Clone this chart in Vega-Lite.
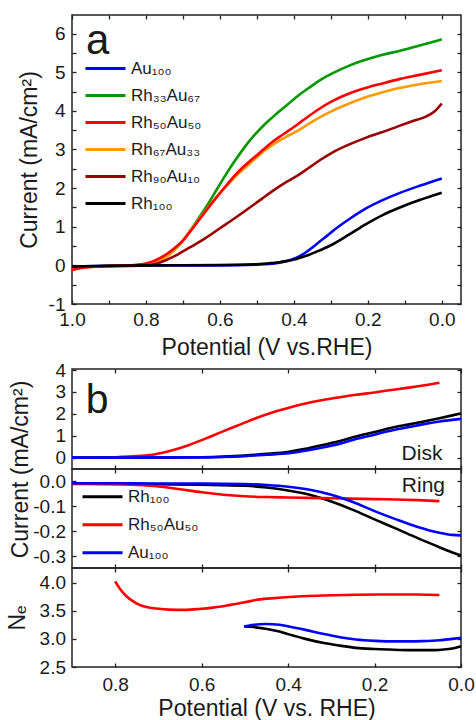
{
  "$schema": "https://vega.github.io/schema/vega-lite/v6.json",
  "padding": {"left": 5, "top": 13, "right": 0, "bottom": 0},
  "spacing": 0,
  "config": {
    "font": "Liberation Sans",
    "view": {"stroke": "#222", "strokeWidth": 1.5},
    "axis": {"grid": false, "domain": false, "tickSize": -4, "tickColor": "#222", "tickWidth": 1.3, "labelFontSize": 19, "labelColor": "#1a1a1a", "titleFontSize": 23, "titleFontWeight": "normal", "titleColor": "#1a1a1a", "labelFlush": false, "labelOverlap": false},
    "legend": {"labelColor": "#1a1a1a"},
    "text": {"color": "#1a1a1a"}
  },
  "resolve": {"scale": {"color": "independent"}, "legend": {"color": "independent"}},
  "vconcat": [
    {
      "width": 389,
      "height": 289,
      "resolve": {"axis": {"x": "independent", "y": "independent"}},
      "layer": [
        {
          "data": {"values": [
            {"s": "Au₁₀₀", "p": 1.0, "i": -0.03}, {"s": "Au₁₀₀", "p": 0.9, "i": -0.01}, {"s": "Au₁₀₀", "p": 0.8, "i": 0.0}, {"s": "Au₁₀₀", "p": 0.6, "i": 0.0}, {"s": "Au₁₀₀", "p": 0.5, "i": 0.02}, {"s": "Au₁₀₀", "p": 0.46, "i": 0.04}, {"s": "Au₁₀₀", "p": 0.44, "i": 0.07}, {"s": "Au₁₀₀", "p": 0.42, "i": 0.11}, {"s": "Au₁₀₀", "p": 0.4, "i": 0.17}, {"s": "Au₁₀₀", "p": 0.386, "i": 0.23}, {"s": "Au₁₀₀", "p": 0.37, "i": 0.32}, {"s": "Au₁₀₀", "p": 0.35, "i": 0.46}, {"s": "Au₁₀₀", "p": 0.33, "i": 0.62}, {"s": "Au₁₀₀", "p": 0.31, "i": 0.77}, {"s": "Au₁₀₀", "p": 0.296, "i": 0.88}, {"s": "Au₁₀₀", "p": 0.25, "i": 1.2}, {"s": "Au₁₀₀", "p": 0.206, "i": 1.47}, {"s": "Au₁₀₀", "p": 0.16, "i": 1.69}, {"s": "Au₁₀₀", "p": 0.115, "i": 1.87}, {"s": "Au₁₀₀", "p": 0.06, "i": 2.06}, {"s": "Au₁₀₀", "p": 0.0, "i": 2.25},
            {"s": "Rh₃₃Au₆₇", "p": 1.0, "i": -0.06}, {"s": "Rh₃₃Au₆₇", "p": 0.95, "i": -0.03}, {"s": "Rh₃₃Au₆₇", "p": 0.9, "i": -0.02}, {"s": "Rh₃₃Au₆₇", "p": 0.85, "i": -0.01}, {"s": "Rh₃₃Au₆₇", "p": 0.82, "i": 0.01}, {"s": "Rh₃₃Au₆₇", "p": 0.8, "i": 0.04}, {"s": "Rh₃₃Au₆₇", "p": 0.78, "i": 0.09}, {"s": "Rh₃₃Au₆₇", "p": 0.76, "i": 0.17}, {"s": "Rh₃₃Au₆₇", "p": 0.74, "i": 0.28}, {"s": "Rh₃₃Au₆₇", "p": 0.72, "i": 0.43}, {"s": "Rh₃₃Au₆₇", "p": 0.7, "i": 0.64}, {"s": "Rh₃₃Au₆₇", "p": 0.68, "i": 0.9}, {"s": "Rh₃₃Au₆₇", "p": 0.66, "i": 1.18}, {"s": "Rh₃₃Au₆₇", "p": 0.64, "i": 1.47}, {"s": "Rh₃₃Au₆₇", "p": 0.62, "i": 1.78}, {"s": "Rh₃₃Au₆₇", "p": 0.6, "i": 2.1}, {"s": "Rh₃₃Au₆₇", "p": 0.584, "i": 2.35}, {"s": "Rh₃₃Au₆₇", "p": 0.56, "i": 2.7}, {"s": "Rh₃₃Au₆₇", "p": 0.54, "i": 2.97}, {"s": "Rh₃₃Au₆₇", "p": 0.521, "i": 3.21}, {"s": "Rh₃₃Au₆₇", "p": 0.5, "i": 3.44}, {"s": "Rh₃₃Au₆₇", "p": 0.48, "i": 3.64}, {"s": "Rh₃₃Au₆₇", "p": 0.458, "i": 3.83}, {"s": "Rh₃₃Au₆₇", "p": 0.44, "i": 3.98}, {"s": "Rh₃₃Au₆₇", "p": 0.42, "i": 4.14}, {"s": "Rh₃₃Au₆₇", "p": 0.4, "i": 4.3}, {"s": "Rh₃₃Au₆₇", "p": 0.386, "i": 4.41}, {"s": "Rh₃₃Au₆₇", "p": 0.36, "i": 4.59}, {"s": "Rh₃₃Au₆₇", "p": 0.33, "i": 4.79}, {"s": "Rh₃₃Au₆₇", "p": 0.296, "i": 4.97}, {"s": "Rh₃₃Au₆₇", "p": 0.25, "i": 5.17}, {"s": "Rh₃₃Au₆₇", "p": 0.206, "i": 5.32}, {"s": "Rh₃₃Au₆₇", "p": 0.16, "i": 5.45}, {"s": "Rh₃₃Au₆₇", "p": 0.115, "i": 5.55}, {"s": "Rh₃₃Au₆₇", "p": 0.06, "i": 5.69}, {"s": "Rh₃₃Au₆₇", "p": 0.03, "i": 5.77}, {"s": "Rh₃₃Au₆₇", "p": 0.0, "i": 5.85},
            {"s": "Rh₆₇Au₃₃", "p": 1.0, "i": -0.08}, {"s": "Rh₆₇Au₃₃", "p": 0.95, "i": -0.04}, {"s": "Rh₆₇Au₃₃", "p": 0.9, "i": -0.02}, {"s": "Rh₆₇Au₃₃", "p": 0.85, "i": -0.01}, {"s": "Rh₆₇Au₃₃", "p": 0.82, "i": 0.0}, {"s": "Rh₆₇Au₃₃", "p": 0.8, "i": 0.02}, {"s": "Rh₆₇Au₃₃", "p": 0.78, "i": 0.06}, {"s": "Rh₆₇Au₃₃", "p": 0.76, "i": 0.13}, {"s": "Rh₆₇Au₃₃", "p": 0.74, "i": 0.25}, {"s": "Rh₆₇Au₃₃", "p": 0.72, "i": 0.42}, {"s": "Rh₆₇Au₃₃", "p": 0.7, "i": 0.64}, {"s": "Rh₆₇Au₃₃", "p": 0.68, "i": 0.9}, {"s": "Rh₆₇Au₃₃", "p": 0.66, "i": 1.15}, {"s": "Rh₆₇Au₃₃", "p": 0.64, "i": 1.4}, {"s": "Rh₆₇Au₃₃", "p": 0.62, "i": 1.64}, {"s": "Rh₆₇Au₃₃", "p": 0.6, "i": 1.87}, {"s": "Rh₆₇Au₃₃", "p": 0.58, "i": 2.08}, {"s": "Rh₆₇Au₃₃", "p": 0.56, "i": 2.28}, {"s": "Rh₆₇Au₃₃", "p": 0.54, "i": 2.46}, {"s": "Rh₆₇Au₃₃", "p": 0.52, "i": 2.63}, {"s": "Rh₆₇Au₃₃", "p": 0.5, "i": 2.8}, {"s": "Rh₆₇Au₃₃", "p": 0.48, "i": 2.96}, {"s": "Rh₆₇Au₃₃", "p": 0.46, "i": 3.1}, {"s": "Rh₆₇Au₃₃", "p": 0.44, "i": 3.22}, {"s": "Rh₆₇Au₃₃", "p": 0.42, "i": 3.33}, {"s": "Rh₆₇Au₃₃", "p": 0.4, "i": 3.43}, {"s": "Rh₆₇Au₃₃", "p": 0.38, "i": 3.54}, {"s": "Rh₆₇Au₃₃", "p": 0.36, "i": 3.66}, {"s": "Rh₆₇Au₃₃", "p": 0.33, "i": 3.83}, {"s": "Rh₆₇Au₃₃", "p": 0.296, "i": 4.0}, {"s": "Rh₆₇Au₃₃", "p": 0.27, "i": 4.11}, {"s": "Rh₆₇Au₃₃", "p": 0.25, "i": 4.19}, {"s": "Rh₆₇Au₃₃", "p": 0.206, "i": 4.35}, {"s": "Rh₆₇Au₃₃", "p": 0.16, "i": 4.48}, {"s": "Rh₆₇Au₃₃", "p": 0.115, "i": 4.59}, {"s": "Rh₆₇Au₃₃", "p": 0.06, "i": 4.69}, {"s": "Rh₆₇Au₃₃", "p": 0.0, "i": 4.77},
            {"s": "Rh₉₀Au₁₀", "p": 1.0, "i": -0.04}, {"s": "Rh₉₀Au₁₀", "p": 0.9, "i": -0.02}, {"s": "Rh₉₀Au₁₀", "p": 0.82, "i": -0.01}, {"s": "Rh₉₀Au₁₀", "p": 0.8, "i": 0.0}, {"s": "Rh₉₀Au₁₀", "p": 0.78, "i": 0.03}, {"s": "Rh₉₀Au₁₀", "p": 0.76, "i": 0.08}, {"s": "Rh₉₀Au₁₀", "p": 0.74, "i": 0.16}, {"s": "Rh₉₀Au₁₀", "p": 0.72, "i": 0.25}, {"s": "Rh₉₀Au₁₀", "p": 0.7, "i": 0.36}, {"s": "Rh₉₀Au₁₀", "p": 0.68, "i": 0.47}, {"s": "Rh₉₀Au₁₀", "p": 0.66, "i": 0.58}, {"s": "Rh₉₀Au₁₀", "p": 0.638, "i": 0.71}, {"s": "Rh₉₀Au₁₀", "p": 0.6, "i": 0.96}, {"s": "Rh₉₀Au₁₀", "p": 0.56, "i": 1.22}, {"s": "Rh₉₀Au₁₀", "p": 0.52, "i": 1.49}, {"s": "Rh₉₀Au₁₀", "p": 0.5, "i": 1.63}, {"s": "Rh₉₀Au₁₀", "p": 0.48, "i": 1.77}, {"s": "Rh₉₀Au₁₀", "p": 0.458, "i": 1.92}, {"s": "Rh₉₀Au₁₀", "p": 0.42, "i": 2.16}, {"s": "Rh₉₀Au₁₀", "p": 0.386, "i": 2.35}, {"s": "Rh₉₀Au₁₀", "p": 0.36, "i": 2.52}, {"s": "Rh₉₀Au₁₀", "p": 0.33, "i": 2.72}, {"s": "Rh₉₀Au₁₀", "p": 0.296, "i": 2.92}, {"s": "Rh₉₀Au₁₀", "p": 0.25, "i": 3.13}, {"s": "Rh₉₀Au₁₀", "p": 0.206, "i": 3.3}, {"s": "Rh₉₀Au₁₀", "p": 0.16, "i": 3.45}, {"s": "Rh₉₀Au₁₀", "p": 0.115, "i": 3.61}, {"s": "Rh₉₀Au₁₀", "p": 0.08, "i": 3.73}, {"s": "Rh₉₀Au₁₀", "p": 0.043, "i": 3.85}, {"s": "Rh₉₀Au₁₀", "p": 0.02, "i": 3.98}, {"s": "Rh₉₀Au₁₀", "p": 0.0, "i": 4.19},
            {"s": "Rh₅₀Au₅₀", "p": 1.0, "i": -0.12}, {"s": "Rh₅₀Au₅₀", "p": 0.97, "i": -0.06}, {"s": "Rh₅₀Au₅₀", "p": 0.93, "i": -0.03}, {"s": "Rh₅₀Au₅₀", "p": 0.88, "i": -0.01}, {"s": "Rh₅₀Au₅₀", "p": 0.84, "i": 0.0}, {"s": "Rh₅₀Au₅₀", "p": 0.82, "i": 0.02}, {"s": "Rh₅₀Au₅₀", "p": 0.8, "i": 0.05}, {"s": "Rh₅₀Au₅₀", "p": 0.78, "i": 0.11}, {"s": "Rh₅₀Au₅₀", "p": 0.76, "i": 0.2}, {"s": "Rh₅₀Au₅₀", "p": 0.74, "i": 0.32}, {"s": "Rh₅₀Au₅₀", "p": 0.72, "i": 0.47}, {"s": "Rh₅₀Au₅₀", "p": 0.7, "i": 0.64}, {"s": "Rh₅₀Au₅₀", "p": 0.68, "i": 0.88}, {"s": "Rh₅₀Au₅₀", "p": 0.66, "i": 1.13}, {"s": "Rh₅₀Au₅₀", "p": 0.64, "i": 1.38}, {"s": "Rh₅₀Au₅₀", "p": 0.62, "i": 1.63}, {"s": "Rh₅₀Au₅₀", "p": 0.6, "i": 1.87}, {"s": "Rh₅₀Au₅₀", "p": 0.58, "i": 2.1}, {"s": "Rh₅₀Au₅₀", "p": 0.56, "i": 2.32}, {"s": "Rh₅₀Au₅₀", "p": 0.54, "i": 2.52}, {"s": "Rh₅₀Au₅₀", "p": 0.52, "i": 2.69}, {"s": "Rh₅₀Au₅₀", "p": 0.5, "i": 2.85}, {"s": "Rh₅₀Au₅₀", "p": 0.48, "i": 3.02}, {"s": "Rh₅₀Au₅₀", "p": 0.46, "i": 3.18}, {"s": "Rh₅₀Au₅₀", "p": 0.44, "i": 3.32}, {"s": "Rh₅₀Au₅₀", "p": 0.42, "i": 3.45}, {"s": "Rh₅₀Au₅₀", "p": 0.4, "i": 3.58}, {"s": "Rh₅₀Au₅₀", "p": 0.38, "i": 3.72}, {"s": "Rh₅₀Au₅₀", "p": 0.36, "i": 3.86}, {"s": "Rh₅₀Au₅₀", "p": 0.33, "i": 4.06}, {"s": "Rh₅₀Au₅₀", "p": 0.296, "i": 4.25}, {"s": "Rh₅₀Au₅₀", "p": 0.27, "i": 4.37}, {"s": "Rh₅₀Au₅₀", "p": 0.25, "i": 4.45}, {"s": "Rh₅₀Au₅₀", "p": 0.206, "i": 4.59}, {"s": "Rh₅₀Au₅₀", "p": 0.16, "i": 4.71}, {"s": "Rh₅₀Au₅₀", "p": 0.115, "i": 4.82}, {"s": "Rh₅₀Au₅₀", "p": 0.06, "i": 4.93}, {"s": "Rh₅₀Au₅₀", "p": 0.0, "i": 5.05},
            {"s": "Rh₁₀₀", "p": 1.0, "i": -0.03}, {"s": "Rh₁₀₀", "p": 0.9, "i": -0.01}, {"s": "Rh₁₀₀", "p": 0.8, "i": 0.0}, {"s": "Rh₁₀₀", "p": 0.6, "i": 0.01}, {"s": "Rh₁₀₀", "p": 0.5, "i": 0.03}, {"s": "Rh₁₀₀", "p": 0.46, "i": 0.06}, {"s": "Rh₁₀₀", "p": 0.44, "i": 0.08}, {"s": "Rh₁₀₀", "p": 0.42, "i": 0.11}, {"s": "Rh₁₀₀", "p": 0.4, "i": 0.15}, {"s": "Rh₁₀₀", "p": 0.386, "i": 0.19}, {"s": "Rh₁₀₀", "p": 0.36, "i": 0.27}, {"s": "Rh₁₀₀", "p": 0.34, "i": 0.35}, {"s": "Rh₁₀₀", "p": 0.32, "i": 0.43}, {"s": "Rh₁₀₀", "p": 0.296, "i": 0.54}, {"s": "Rh₁₀₀", "p": 0.25, "i": 0.8}, {"s": "Rh₁₀₀", "p": 0.206, "i": 1.06}, {"s": "Rh₁₀₀", "p": 0.16, "i": 1.3}, {"s": "Rh₁₀₀", "p": 0.115, "i": 1.49}, {"s": "Rh₁₀₀", "p": 0.06, "i": 1.69}, {"s": "Rh₁₀₀", "p": 0.0, "i": 1.88}
          ]},
          "mark": {"type": "line", "strokeWidth": 2.6, "interpolate": "monotone"},
          "encoding": {
            "x": {"field": "p", "type": "quantitative", "scale": {"domain": [-0.052, 1.0], "reverse": true, "nice": false, "zero": false},
                  "axis": {"orient": "bottom", "values": [0, 0.1, 0.2, 0.3, 0.4, 0.5, 0.6, 0.7, 0.8, 0.9, 1.0], "labelExpr": "abs(datum.value*5-round(datum.value*5))<0.01 ? format(datum.value,'.1f') : ''", "labelPadding": 10, "title": "Potential (V vs.RHE)", "titlePadding": 7}},
            "y": {"field": "i", "type": "quantitative", "scale": {"domain": [-1, 6.48], "nice": false, "zero": false},
                  "axis": {"orient": "left", "values": [-1, -0.5, 0, 0.5, 1, 1.5, 2, 2.5, 3, 3.5, 4, 4.5, 5, 5.5, 6], "labelExpr": "abs(datum.value-round(datum.value))<0.01 ? '' + datum.value : ''", "labelPadding": 11, "title": "Current (mA/cm²)", "titleX": -43, "titleBaseline": "middle"}},
            "color": {"field": "s", "type": "nominal",
                      "scale": {"domain": ["Au₁₀₀", "Rh₃₃Au₆₇", "Rh₅₀Au₅₀", "Rh₆₇Au₃₃", "Rh₉₀Au₁₀", "Rh₁₀₀"], "range": ["#0000ff", "#009a00", "#ff0000", "#ff9a00", "#9b0000", "#000000"]},
                      "legend": {"orient": "none", "legendX": 12, "legendY": 40, "direction": "vertical", "title": null, "symbolType": "stroke", "symbolSize": 1600, "symbolStrokeWidth": 3, "labelFontSize": 17, "clipHeight": 27, "rowPadding": 0, "labelOffset": 4, "padding": 0}}
          }
        },
        {
          "data": {"values": [{}]},
          "mark": {"type": "text", "text": "a", "fontSize": 42, "align": "left", "baseline": "alphabetic"},
          "encoding": {
            "x": {"datum": 0.962, "type": "quantitative", "axis": {"orient": "top", "values": [0, 0.1, 0.2, 0.3, 0.4, 0.5, 0.6, 0.7, 0.8, 0.9, 1.0], "labels": false, "title": null}},
            "y": {"datum": 5.47, "type": "quantitative", "axis": {"orient": "right", "values": [-1, -0.5, 0, 0.5, 1, 1.5, 2, 2.5, 3, 3.5, 4, 4.5, 5, 5.5, 6], "labels": false, "title": null}}
          }
        }
      ]
    },
    {
      "spacing": 0,
      "bounds": "flush",
      "resolve": {"scale": {"color": "independent"}, "legend": {"color": "independent"}},
      "vconcat": [
        {
          "width": 389,
          "height": 100,
          "resolve": {"axis": {"x": "independent", "y": "independent"}},
          "layer": [
            {
              "data": {"values": [
                {"s": "Rh₁₀₀", "p": 0.9, "i": 0.0}, {"s": "Rh₁₀₀", "p": 0.7, "i": 0.0}, {"s": "Rh₁₀₀", "p": 0.6, "i": 0.02}, {"s": "Rh₁₀₀", "p": 0.55, "i": 0.05}, {"s": "Rh₁₀₀", "p": 0.5, "i": 0.1}, {"s": "Rh₁₀₀", "p": 0.45, "i": 0.17}, {"s": "Rh₁₀₀", "p": 0.398, "i": 0.27}, {"s": "Rh₁₀₀", "p": 0.36, "i": 0.4}, {"s": "Rh₁₀₀", "p": 0.32, "i": 0.58}, {"s": "Rh₁₀₀", "p": 0.28, "i": 0.76}, {"s": "Rh₁₀₀", "p": 0.243, "i": 0.96}, {"s": "Rh₁₀₀", "p": 0.2, "i": 1.17}, {"s": "Rh₁₀₀", "p": 0.166, "i": 1.34}, {"s": "Rh₁₀₀", "p": 0.12, "i": 1.52}, {"s": "Rh₁₀₀", "p": 0.089, "i": 1.64}, {"s": "Rh₁₀₀", "p": 0.05, "i": 1.8}, {"s": "Rh₁₀₀", "p": 0.02, "i": 1.93}, {"s": "Rh₁₀₀", "p": 0.0, "i": 2.02},
                {"s": "Rh₅₀Au₅₀", "p": 0.8, "i": 0.02}, {"s": "Rh₅₀Au₅₀", "p": 0.75, "i": 0.07}, {"s": "Rh₅₀Au₅₀", "p": 0.707, "i": 0.15}, {"s": "Rh₅₀Au₅₀", "p": 0.67, "i": 0.32}, {"s": "Rh₅₀Au₅₀", "p": 0.629, "i": 0.58}, {"s": "Rh₅₀Au₅₀", "p": 0.59, "i": 0.88}, {"s": "Rh₅₀Au₅₀", "p": 0.552, "i": 1.19}, {"s": "Rh₅₀Au₅₀", "p": 0.51, "i": 1.52}, {"s": "Rh₅₀Au₅₀", "p": 0.475, "i": 1.8}, {"s": "Rh₅₀Au₅₀", "p": 0.44, "i": 2.04}, {"s": "Rh₅₀Au₅₀", "p": 0.398, "i": 2.28}, {"s": "Rh₅₀Au₅₀", "p": 0.36, "i": 2.47}, {"s": "Rh₅₀Au₅₀", "p": 0.32, "i": 2.63}, {"s": "Rh₅₀Au₅₀", "p": 0.28, "i": 2.76}, {"s": "Rh₅₀Au₅₀", "p": 0.243, "i": 2.87}, {"s": "Rh₅₀Au₅₀", "p": 0.2, "i": 2.98}, {"s": "Rh₅₀Au₅₀", "p": 0.166, "i": 3.08}, {"s": "Rh₅₀Au₅₀", "p": 0.12, "i": 3.2}, {"s": "Rh₅₀Au₅₀", "p": 0.08, "i": 3.32}, {"s": "Rh₅₀Au₅₀", "p": 0.05, "i": 3.42},
                {"s": "Au₁₀₀", "p": 0.9, "i": 0.0}, {"s": "Au₁₀₀", "p": 0.6, "i": 0.01}, {"s": "Au₁₀₀", "p": 0.55, "i": 0.03}, {"s": "Au₁₀₀", "p": 0.5, "i": 0.07}, {"s": "Au₁₀₀", "p": 0.45, "i": 0.13}, {"s": "Au₁₀₀", "p": 0.398, "i": 0.2}, {"s": "Au₁₀₀", "p": 0.36, "i": 0.31}, {"s": "Au₁₀₀", "p": 0.32, "i": 0.46}, {"s": "Au₁₀₀", "p": 0.28, "i": 0.64}, {"s": "Au₁₀₀", "p": 0.243, "i": 0.85}, {"s": "Au₁₀₀", "p": 0.2, "i": 1.05}, {"s": "Au₁₀₀", "p": 0.166, "i": 1.22}, {"s": "Au₁₀₀", "p": 0.12, "i": 1.4}, {"s": "Au₁₀₀", "p": 0.089, "i": 1.52}, {"s": "Au₁₀₀", "p": 0.05, "i": 1.65}, {"s": "Au₁₀₀", "p": 0.0, "i": 1.77}
              ]},
              "mark": {"type": "line", "strokeWidth": 2.6, "interpolate": "monotone"},
              "encoding": {
                "x": {"field": "p", "type": "quantitative", "scale": {"domain": [0, 0.9], "reverse": true, "nice": false, "zero": false},
                      "axis": {"orient": "bottom", "values": [0, 0.2, 0.4, 0.6, 0.8], "labels": false, "title": null}},
                "y": {"field": "i", "type": "quantitative", "scale": {"domain": [-0.52, 4.05], "nice": false, "zero": false},
                      "axis": {"orient": "left", "values": [0, 1, 2, 3, 4], "labelExpr": "'' + datum.value", "labelPadding": 10.5, "title": "Current (mA/cm²)", "titleX": -52, "titleY": 100, "titleBaseline": "middle"}},
                "color": {"field": "s", "type": "nominal", "scale": {"domain": ["Rh₁₀₀", "Rh₅₀Au₅₀", "Au₁₀₀"], "range": ["#000000", "#ff0000", "#0000ff"]}, "legend": null}
              }
            },
            {
              "data": {"values": [{}]},
              "mark": {"type": "text", "text": "b", "fontSize": 41, "align": "left", "baseline": "alphabetic"},
              "encoding": {
                "x": {"datum": 0.868, "type": "quantitative", "axis": {"orient": "top", "values": [0, 0.2, 0.4, 0.6, 0.8], "labels": false, "title": null}},
                "y": {"datum": 2.05, "type": "quantitative", "axis": {"orient": "right", "values": [0, 1, 2, 3, 4], "labels": false, "title": null}}
              }
            },
            {
              "data": {"values": [{}]},
              "mark": {"type": "text", "text": "Disk", "fontSize": 21, "align": "right", "baseline": "alphabetic"},
              "encoding": {
                "x": {"datum": 0.043, "type": "quantitative", "axis": null},
                "y": {"datum": -0.1, "type": "quantitative", "axis": null}
              }
            }
          ]
        },
        {
          "width": 389,
          "height": 99,
          "resolve": {"axis": {"x": "independent", "y": "independent"}},
          "layer": [
            {
              "data": {"values": [
                {"s": "Rh₁₀₀", "p": 0.9, "i": -0.01}, {"s": "Rh₁₀₀", "p": 0.8, "i": -0.012}, {"s": "Rh₁₀₀", "p": 0.7, "i": -0.013}, {"s": "Rh₁₀₀", "p": 0.6, "i": -0.015}, {"s": "Rh₁₀₀", "p": 0.5, "i": -0.019}, {"s": "Rh₁₀₀", "p": 0.45, "i": -0.026}, {"s": "Rh₁₀₀", "p": 0.4, "i": -0.038}, {"s": "Rh₁₀₀", "p": 0.35, "i": -0.055}, {"s": "Rh₁₀₀", "p": 0.3, "i": -0.082}, {"s": "Rh₁₀₀", "p": 0.25, "i": -0.115}, {"s": "Rh₁₀₀", "p": 0.2, "i": -0.153}, {"s": "Rh₁₀₀", "p": 0.15, "i": -0.19}, {"s": "Rh₁₀₀", "p": 0.1, "i": -0.228}, {"s": "Rh₁₀₀", "p": 0.05, "i": -0.264}, {"s": "Rh₁₀₀", "p": 0.02, "i": -0.285}, {"s": "Rh₁₀₀", "p": 0.0, "i": -0.297},
                {"s": "Rh₅₀Au₅₀", "p": 0.9, "i": -0.012}, {"s": "Rh₅₀Au₅₀", "p": 0.8, "i": -0.013}, {"s": "Rh₅₀Au₅₀", "p": 0.75, "i": -0.016}, {"s": "Rh₅₀Au₅₀", "p": 0.7, "i": -0.022}, {"s": "Rh₅₀Au₅₀", "p": 0.65, "i": -0.033}, {"s": "Rh₅₀Au₅₀", "p": 0.6, "i": -0.045}, {"s": "Rh₅₀Au₅₀", "p": 0.55, "i": -0.055}, {"s": "Rh₅₀Au₅₀", "p": 0.5, "i": -0.061}, {"s": "Rh₅₀Au₅₀", "p": 0.45, "i": -0.064}, {"s": "Rh₅₀Au₅₀", "p": 0.4, "i": -0.066}, {"s": "Rh₅₀Au₅₀", "p": 0.3, "i": -0.069}, {"s": "Rh₅₀Au₅₀", "p": 0.2, "i": -0.072}, {"s": "Rh₅₀Au₅₀", "p": 0.1, "i": -0.076}, {"s": "Rh₅₀Au₅₀", "p": 0.05, "i": -0.08},
                {"s": "Au₁₀₀", "p": 0.9, "i": -0.009}, {"s": "Au₁₀₀", "p": 0.8, "i": -0.009}, {"s": "Au₁₀₀", "p": 0.7, "i": -0.01}, {"s": "Au₁₀₀", "p": 0.6, "i": -0.01}, {"s": "Au₁₀₀", "p": 0.5, "i": -0.012}, {"s": "Au₁₀₀", "p": 0.45, "i": -0.016}, {"s": "Au₁₀₀", "p": 0.4, "i": -0.023}, {"s": "Au₁₀₀", "p": 0.35, "i": -0.035}, {"s": "Au₁₀₀", "p": 0.3, "i": -0.055}, {"s": "Au₁₀₀", "p": 0.25, "i": -0.084}, {"s": "Au₁₀₀", "p": 0.2, "i": -0.12}, {"s": "Au₁₀₀", "p": 0.15, "i": -0.153}, {"s": "Au₁₀₀", "p": 0.1, "i": -0.183}, {"s": "Au₁₀₀", "p": 0.05, "i": -0.206}, {"s": "Au₁₀₀", "p": 0.02, "i": -0.215}, {"s": "Au₁₀₀", "p": 0.0, "i": -0.217}
              ]},
              "mark": {"type": "line", "strokeWidth": 2.6, "interpolate": "monotone"},
              "encoding": {
                "x": {"field": "p", "type": "quantitative", "scale": {"domain": [0, 0.9], "reverse": true, "nice": false, "zero": false},
                      "axis": {"orient": "bottom", "values": [0, 0.2, 0.4, 0.6, 0.8], "labels": false, "title": null}},
                "y": {"field": "i", "type": "quantitative", "scale": {"domain": [-0.347, 0.048], "nice": false, "zero": false},
                      "axis": {"orient": "left", "values": [0, -0.1, -0.2, -0.3], "labelExpr": "replace(format(datum.value,'.1f'),'\u2212','-')", "labelPadding": 10.5, "title": null}},
                "color": {"field": "s", "type": "nominal", "scale": {"domain": ["Rh₁₀₀", "Rh₅₀Au₅₀", "Au₁₀₀"], "range": ["#000000", "#ff0000", "#0000ff"]},
                          "legend": {"orient": "none", "legendX": 9, "legendY": 14, "direction": "vertical", "title": null, "symbolType": "stroke", "symbolSize": 1600, "symbolStrokeWidth": 3, "labelFontSize": 17, "clipHeight": 27.5, "rowPadding": 0, "labelOffset": 4, "padding": 0}}
              }
            },
            {
              "data": {"values": [{}]},
              "mark": {"type": "text", "text": "Ring", "fontSize": 21, "align": "right", "baseline": "alphabetic"},
              "encoding": {
                "x": {"datum": 0.037, "type": "quantitative", "axis": {"orient": "top", "values": [0, 0.2, 0.4, 0.6, 0.8], "labels": false, "title": null}},
                "y": {"datum": -0.044, "type": "quantitative", "axis": {"orient": "right", "values": [0, -0.1, -0.2, -0.3], "labels": false, "title": null}}
              }
            }
          ]
        },
        {
          "width": 389,
          "height": 99,
          "resolve": {"axis": {"x": "independent", "y": "independent"}},
          "layer": [
            {
              "data": {"values": [
                {"s": "Rh₁₀₀", "p": 0.502, "i": 3.22}, {"s": "Rh₁₀₀", "p": 0.48, "i": 3.21}, {"s": "Rh₁₀₀", "p": 0.452, "i": 3.18}, {"s": "Rh₁₀₀", "p": 0.42, "i": 3.13}, {"s": "Rh₁₀₀", "p": 0.398, "i": 3.08}, {"s": "Rh₁₀₀", "p": 0.36, "i": 3.0}, {"s": "Rh₁₀₀", "p": 0.32, "i": 2.93}, {"s": "Rh₁₀₀", "p": 0.28, "i": 2.88}, {"s": "Rh₁₀₀", "p": 0.243, "i": 2.84}, {"s": "Rh₁₀₀", "p": 0.2, "i": 2.82}, {"s": "Rh₁₀₀", "p": 0.166, "i": 2.81}, {"s": "Rh₁₀₀", "p": 0.12, "i": 2.8}, {"s": "Rh₁₀₀", "p": 0.089, "i": 2.8}, {"s": "Rh₁₀₀", "p": 0.06, "i": 2.8}, {"s": "Rh₁₀₀", "p": 0.04, "i": 2.81}, {"s": "Rh₁₀₀", "p": 0.02, "i": 2.83}, {"s": "Rh₁₀₀", "p": 0.0, "i": 2.87},
                {"s": "Rh₅₀Au₅₀", "p": 0.8, "i": 4.02}, {"s": "Rh₅₀Au₅₀", "p": 0.79, "i": 3.9}, {"s": "Rh₅₀Au₅₀", "p": 0.777, "i": 3.78}, {"s": "Rh₅₀Au₅₀", "p": 0.761, "i": 3.68}, {"s": "Rh₅₀Au₅₀", "p": 0.745, "i": 3.61}, {"s": "Rh₅₀Au₅₀", "p": 0.73, "i": 3.57}, {"s": "Rh₅₀Au₅₀", "p": 0.7, "i": 3.535}, {"s": "Rh₅₀Au₅₀", "p": 0.676, "i": 3.52}, {"s": "Rh₅₀Au₅₀", "p": 0.64, "i": 3.515}, {"s": "Rh₅₀Au₅₀", "p": 0.606, "i": 3.53}, {"s": "Rh₅₀Au₅₀", "p": 0.57, "i": 3.56}, {"s": "Rh₅₀Au₅₀", "p": 0.537, "i": 3.6}, {"s": "Rh₅₀Au₅₀", "p": 0.5, "i": 3.65}, {"s": "Rh₅₀Au₅₀", "p": 0.475, "i": 3.69}, {"s": "Rh₅₀Au₅₀", "p": 0.44, "i": 3.72}, {"s": "Rh₅₀Au₅₀", "p": 0.398, "i": 3.745}, {"s": "Rh₅₀Au₅₀", "p": 0.32, "i": 3.77}, {"s": "Rh₅₀Au₅₀", "p": 0.243, "i": 3.785}, {"s": "Rh₅₀Au₅₀", "p": 0.166, "i": 3.79}, {"s": "Rh₅₀Au₅₀", "p": 0.1, "i": 3.79}, {"s": "Rh₅₀Au₅₀", "p": 0.05, "i": 3.78},
                {"s": "Au₁₀₀", "p": 0.502, "i": 3.22}, {"s": "Au₁₀₀", "p": 0.48, "i": 3.25}, {"s": "Au₁₀₀", "p": 0.452, "i": 3.265}, {"s": "Au₁₀₀", "p": 0.42, "i": 3.25}, {"s": "Au₁₀₀", "p": 0.398, "i": 3.22}, {"s": "Au₁₀₀", "p": 0.36, "i": 3.16}, {"s": "Au₁₀₀", "p": 0.32, "i": 3.09}, {"s": "Au₁₀₀", "p": 0.28, "i": 3.03}, {"s": "Au₁₀₀", "p": 0.243, "i": 2.99}, {"s": "Au₁₀₀", "p": 0.2, "i": 2.965}, {"s": "Au₁₀₀", "p": 0.166, "i": 2.955}, {"s": "Au₁₀₀", "p": 0.12, "i": 2.955}, {"s": "Au₁₀₀", "p": 0.089, "i": 2.96}, {"s": "Au₁₀₀", "p": 0.05, "i": 2.975}, {"s": "Au₁₀₀", "p": 0.02, "i": 3.0}, {"s": "Au₁₀₀", "p": 0.0, "i": 3.02}
              ]},
              "mark": {"type": "line", "strokeWidth": 2.6, "interpolate": "monotone"},
              "encoding": {
                "x": {"field": "p", "type": "quantitative", "scale": {"domain": [0, 0.9], "reverse": true, "nice": false, "zero": false},
                      "axis": {"orient": "bottom", "values": [0, 0.2, 0.4, 0.6, 0.8], "format": ".1f", "labelPadding": 12.5, "title": "Potential (V vs. RHE)", "titlePadding": 3}},
                "y": {"field": "i", "type": "quantitative", "scale": {"domain": [2.5, 4.26], "nice": false, "zero": false},
                      "axis": {"orient": "left", "values": [2.5, 3.0, 3.5, 4.0], "format": ".1f", "labelPadding": 10.5, "title": "Nₑ", "titleX": -55, "titleBaseline": "middle"}},
                "color": {"field": "s", "type": "nominal", "scale": {"domain": ["Rh₁₀₀", "Rh₅₀Au₅₀", "Au₁₀₀"], "range": ["#000000", "#ff0000", "#0000ff"]}, "legend": null}
              }
            },
            {
              "data": {"values": [{}]},
              "mark": {"type": "text", "text": "", "fontSize": 1},
              "encoding": {
                "x": {"datum": 0.5, "type": "quantitative", "axis": {"orient": "top", "values": [0, 0.2, 0.4, 0.6, 0.8], "labels": false, "title": null}},
                "y": {"datum": 3.0, "type": "quantitative", "axis": {"orient": "right", "values": [2.5, 3.0, 3.5, 4.0], "labels": false, "title": null}}
              }
            }
          ]
        }
      ]
    }
  ]
}
